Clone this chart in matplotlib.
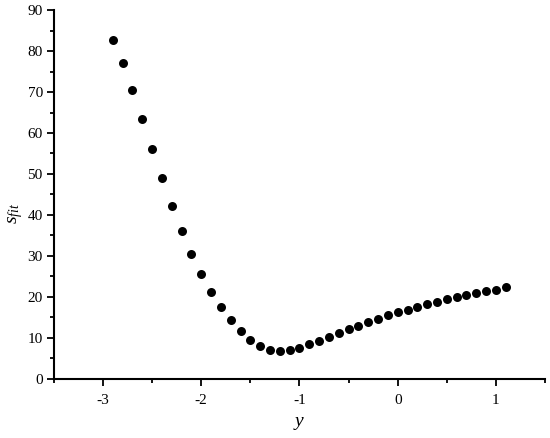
import matplotlib
matplotlib.use("Agg")
import matplotlib.pyplot as plt
from matplotlib.ticker import MultipleLocator

x_vals = [-2.9, -2.8, -2.7, -2.6, -2.5, -2.4, -2.3, -2.2, -2.1, -2.0,
          -1.9, -1.8, -1.7, -1.6, -1.5, -1.4, -1.3, -1.2, -1.1, -1.0,
          -0.9, -0.8, -0.7, -0.6, -0.5, -0.4, -0.3, -0.2, -0.1, 0.0,
          0.1, 0.2, 0.3, 0.4, 0.5, 0.6, 0.7, 0.8, 0.9, 1.0, 1.1]
s_fit = [82.7, 77.0, 70.5, 63.3, 56.0, 48.9, 42.2, 36.1, 30.4, 25.6,
         21.3, 17.5, 14.4, 11.8, 9.6, 7.9, 7.0, 6.8, 7.0, 7.6,
         8.4, 9.3, 10.2, 11.2, 12.2, 13.0, 13.9, 14.7, 15.5, 16.2,
         16.9, 17.6, 18.3, 18.8, 19.4, 19.9, 20.4, 21.0, 21.4, 21.8, 22.3]

plt.rcParams['font.family'] = ['Liberation Serif', 'DejaVu Serif']
plt.rcParams['axes.unicode_minus'] = False
plt.rcParams['mathtext.fontset'] = 'custom'
plt.rcParams['mathtext.it'] = 'Liberation Serif:italic'
plt.rcParams['mathtext.rm'] = 'Liberation Serif'

fig = plt.figure(figsize=(5.5, 4.38), dpi=100)
ax = fig.add_axes([0.098, 0.135, 0.893, 0.842])
ax.scatter(x_vals, s_fit, s=42, color='black', zorder=3, linewidths=0)

ax.set_xlim(-3.5, 1.5)
ax.set_ylim(0, 90)
ax.xaxis.set_major_locator(MultipleLocator(1))
ax.xaxis.set_minor_locator(MultipleLocator(0.5))
ax.yaxis.set_major_locator(MultipleLocator(10))
ax.yaxis.set_minor_locator(MultipleLocator(5))
for s in ['top', 'right']:
    ax.spines[s].set_visible(False)
for s in ['left', 'bottom']:
    ax.spines[s].set_linewidth(1.5)
ax.tick_params(which='major', direction='out', length=5, width=1.3, labelsize=11, pad=3)
ax.tick_params(which='minor', direction='out', length=3, width=1.3)
ax.tick_params(axis='x', pad=6)

ax.set_xlabel(r'$y$', fontsize=14, labelpad=6)
ax.set_ylabel(r'$s_{fit}$', fontsize=14, labelpad=4)
ax.yaxis.set_label_coords(-0.058, 0.45)

fig.savefig('out.png', dpi=100)
